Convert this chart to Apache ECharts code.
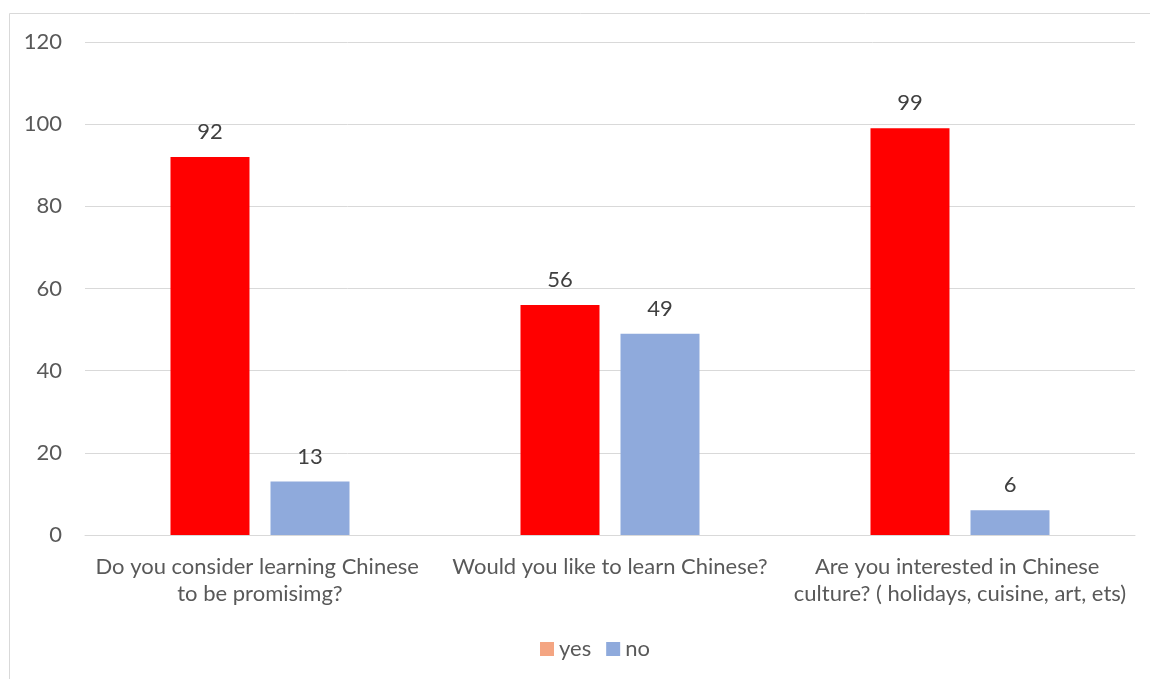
<!DOCTYPE html>
<html><head><meta charset="utf-8">
<script src="https://cdn.jsdelivr.net/npm/echarts@6/dist/echarts.min.js"></script>
<style>html,body{margin:0;padding:0;background:#fff}#c{width:1150px;height:679px}</style>
</head><body><div id="c"></div>
<script>
const categories = ["Do you consider learning Chinese to be promisimg?", "Would you like to learn Chinese?", "Are you interested in Chinese culture? ( holidays, cuisine, art, ets)"];
const yesValues = [92, 56, 99];
const noValues = [13, 49, 6];
const yTicks = [0, 20, 40, 60, 80, 100, 120];

const FONT = "Lato";
const FS = 22;
const chart = echarts.init(document.getElementById('c'));
chart.setOption({
  animation: false,
  textStyle: {fontFamily: FONT},
  graphic: [{type: 'rect', shape: {x: 9.5, y: 13.5, width: 1160, height: 700}, style: {fill: 'none', stroke: '#d9d9d9', lineWidth: 1}, silent: true}],
  grid: {left: 85, right: 15, top: 42, bottom: 144, containLabel: false},
  legend: {bottom: 14, left: 535, itemWidth: 14, itemHeight: 14, itemGap: 15, icon: 'rect',
    textStyle: {color: '#595959', fontSize: FS, fontFamily: FONT}, data: ['yes', 'no']},
  xAxis: {type: 'category', data: categories,
    axisLine: {lineStyle: {color: '#d9d9d9'}}, axisTick: {show: false},
    axisLabel: {color: '#595959', fontSize: FS, fontFamily: FONT, interval: 0, width: 335, overflow: 'break', lineHeight: 27, margin: 18}},
  yAxis: {type: 'value', min: yTicks[0], max: yTicks[yTicks.length - 1], interval: 20,
    axisLine: {show: false}, axisTick: {show: false},
    splitLine: {lineStyle: {color: '#d9d9d9', width: 1}},
    axisLabel: {color: '#595959', fontSize: FS, fontFamily: FONT, margin: 23}},
  series: [
    {name: 'yes', type: 'bar', barWidth: 79, barGap: '26.6%', itemStyle: {color: '#F4A582'},
      data: yesValues.map(v => ({value: v, itemStyle: {color: '#FF0000'}})),
      label: {show: true, position: 'top', distance: 14, color: '#404040', fontSize: FS, fontFamily: FONT}},
    {name: 'no', type: 'bar', barWidth: 79, itemStyle: {color: '#8FAADC'}, data: noValues,
      label: {show: true, position: 'top', distance: 14, color: '#404040', fontSize: FS, fontFamily: FONT}}
  ]
});
</script></body></html>
